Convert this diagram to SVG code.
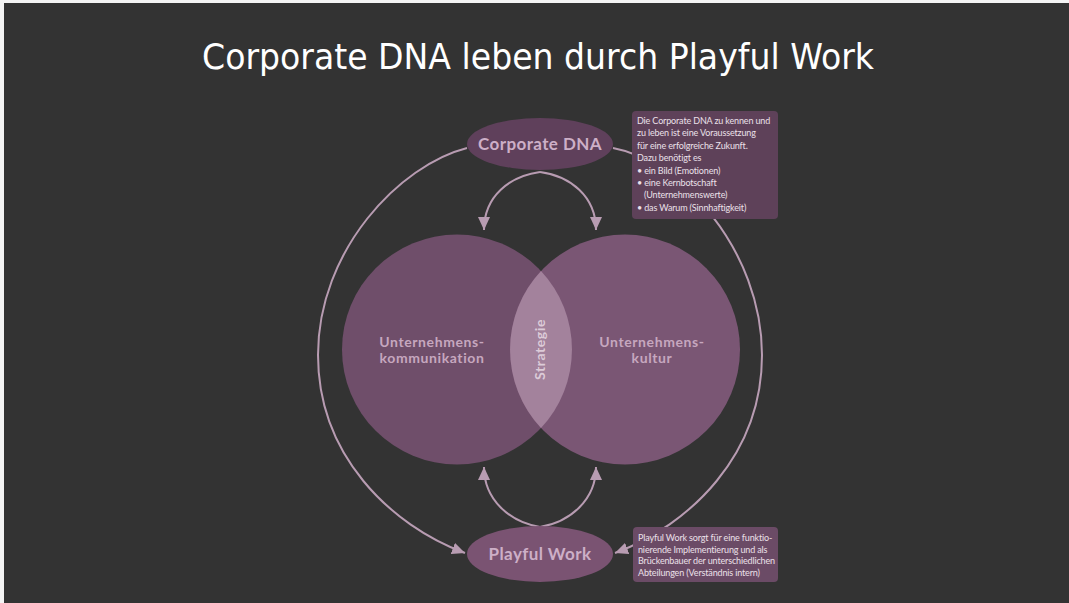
<svg xmlns="http://www.w3.org/2000/svg" width="1069" height="603" viewBox="0 0 1069 603">
<defs>
<style>
.title{font-family:"DejaVu Sans",sans-serif;font-size:35px;fill:#ffffff}
.node{font-family:Lato,"Open Sans",sans-serif;font-weight:bold;font-size:17px;fill:#cdafc7;letter-spacing:0.4px}
.ctext{font-family:Lato,"Open Sans",sans-serif;font-weight:bold;font-size:14px;fill:#c6a7bf;letter-spacing:0.6px}
.note{font-family:Lato,"Open Sans",sans-serif;font-size:9px;fill:#ebe0e9;letter-spacing:-0.15px}
.conn{fill:none;stroke:#b89cb2;stroke-width:2}
</style>
<marker id="ah" markerUnits="userSpaceOnUse" markerWidth="14" markerHeight="12" refX="13" refY="6" orient="auto">
<path d="M0,0 L13,6 L0,12 z" fill="#b89cb2"/>
</marker>
</defs>
<rect x="0" y="0" width="1069" height="603" fill="#f4f4f4"/>
<rect x="4" y="3" width="1065" height="600" fill="#333333"/>
<text class="title" x="538" y="69" text-anchor="middle" textLength="672" lengthAdjust="spacingAndGlyphs">Corporate DNA leben durch Playful Work</text>

<g id="connectors">
<path class="conn" d="M467,148 C400,165 318,250 318,355 C318,455 390,525 465,553" marker-end="url(#ah)"/>
<path class="conn" d="M613,148 C680,160 762,250 762,355 C762,455 690,525 615,553" marker-end="url(#ah)"/>
<path class="conn" d="M540,172 C510,176 484,196 484,230" marker-end="url(#ah)"/>
<path class="conn" d="M540,172 C570,176 596,196 596,230" marker-end="url(#ah)"/>
<path class="conn" d="M540,527 C510,522 484,500 484,467" marker-end="url(#ah)"/>
<path class="conn" d="M540,527 C570,522 596,500 596,467" marker-end="url(#ah)"/>
</g>

<g id="kommunikation">
<circle cx="457" cy="349.5" r="115" fill="#6f4e6a"/>
</g>
<g id="kultur">
<circle cx="625" cy="349.5" r="115" fill="#7a5674"/>
</g>
<g id="strategie">
<path d="M541,271 A115,115 0 0 1 541,428 A115,115 0 0 1 541,271 z" fill="#a3829c"/>
<text class="ctext" transform="translate(545,349.5) rotate(-90)" text-anchor="middle" style="fill:#dccbd8">Strategie</text>
</g>
<g id="kommunikation-label">
<text class="ctext" x="432" y="347" text-anchor="middle">Unternehmens-</text>
<text class="ctext" x="432" y="363" text-anchor="middle">kommunikation</text>
</g>
<g id="kultur-label">
<text class="ctext" x="652" y="347" text-anchor="middle">Unternehmens-</text>
<text class="ctext" x="652" y="363" text-anchor="middle">kultur</text>
</g>

<g id="corporate-dna">
<ellipse cx="540" cy="144" rx="73" ry="26" fill="#5f405b"/>
<text class="node" x="540" y="150" text-anchor="middle">Corporate DNA</text>
</g>
<g id="playful-work">
<ellipse cx="540" cy="554" rx="73" ry="28" fill="#7a5372"/>
<text class="node" x="540" y="560" text-anchor="middle">Playful Work</text>
</g>

<g id="note-top">
<rect x="632" y="111" width="146" height="108" rx="4" fill="#5e4159"/>
<text class="note" x="637" y="124">Die Corporate DNA zu kennen und</text>
<text class="note" x="637" y="136.4">zu leben ist eine Voraussetzung</text>
<text class="note" x="637" y="148.8">für eine erfolgreiche Zukunft.</text>
<text class="note" x="637" y="161.2">Dazu benötigt es</text>
<text class="note" x="637" y="173.6">• ein Bild (Emotionen)</text>
<text class="note" x="637" y="186">• eine Kernbotschaft</text>
<text class="note" x="644" y="198.4">(Unternehmenswerte)</text>
<text class="note" x="637" y="210.8">• das Warum (Sinnhaftigkeit)</text>
</g>
<g id="note-bottom">
<rect x="633" y="527" width="145" height="55" rx="4" fill="#6b4b66"/>
<text class="note" x="638" y="541">Playful Work sorgt für eine funktio-</text>
<text class="note" x="638" y="552.5">nierende Implementierung und als</text>
<text class="note" x="638" y="564">Brückenbauer der unterschiedlichen</text>
<text class="note" x="638" y="575.5">Abteilungen (Verständnis intern)</text>
</g>
</svg>
